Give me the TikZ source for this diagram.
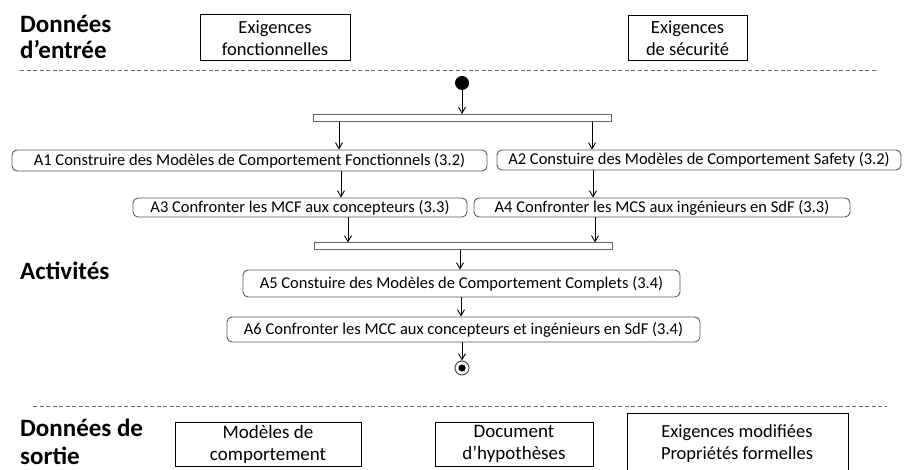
\documentclass[tikz,border=0pt]{standalone}
\usepackage{fontspec}
\setmainfont{Carlito}
\usetikzlibrary{arrows.meta}
\begin{document}
\begin{tikzpicture}[x=1pt,y=-1pt,
  databox/.style={draw=black, line width=1pt, align=center, font=\fontsize{18.5}{22}\selectfont, inner sep=0pt},
  outbox/.style={draw=black, line width=1pt, align=center, font=\fontsize{19}{22}\selectfont, inner sep=0pt},
  act/.style={draw=black!65, rounded corners=5pt, line width=0.9pt, font=\fontsize{16.5}{18}\selectfont, inner sep=0pt},
  bar/.style={draw=black!60, fill=white, line width=1pt, inner sep=0pt},
  arr/.style={-{Straight Barb[length=6pt,width=7pt]}, line width=0.9pt},
  sepline/.style={draw=black!60, dash pattern=on 4pt off 2.5pt, line width=0.9pt},
  head/.style={font=\fontsize{25}{28}\selectfont\bfseries, anchor=base west, inner sep=0pt}]
\useasboundingbox (0,0) rectangle (904,470);
% headings
\node[head] (h1a) at (20,33) {Données};
\node[head] (h1b) at (20,59) {d’entrée};
\node[head] (h2) at (20,279) {Activités};
\node[head] (h3a) at (20,436) {Données de};
\node[head] (h3b) at (20,464) {sortie};
% input data
\node[databox, minimum width=150, minimum height=46] (ef) at (275,38) {Exigences\\fonctionnelles};
\node[databox, minimum width=119, minimum height=45] (es) at (687.5,38.5) {Exigences\\de sécurité};
\draw[sepline] (20,70) -- (877,70);
% activity diagram
\node[circle, fill=black, minimum size=14, inner sep=0pt] (init) at (462,83) {};
\node[bar, minimum width=298, minimum height=7] (b1) at (462,118) {};
\node[act, minimum width=475, minimum height=21] (a1) at (249.5,160.5) {A1 Construire des Modèles de Comportement Fonctionnels (3.2)};
\node[act, minimum width=404, minimum height=20] (a2) at (699,160) {A2 Constuire des Modèles de Comportement Safety (3.2)};
\node[act, minimum width=334, minimum height=19] (a3) at (300,207.5) {A3 Confronter les MCF aux concepteurs (3.3)};
\node[act, minimum width=376, minimum height=19] (a4) at (662,207.5) {A4 Confronter les MCS aux ingénieurs en SdF (3.3)};
\node[bar, minimum width=298, minimum height=7] (b2) at (463,246.5) {};
\node[act, minimum width=437, minimum height=27] (a5) at (461.5,283.5) {A5 Constuire des Modèles de Comportement Complets (3.4)};
\node[act, minimum width=473, minimum height=25] (a6) at (463.5,329.5) {A6 Confronter les MCC aux concepteurs et ingénieurs en SdF (3.4)};
\node[circle, draw=black!70, line width=1pt, minimum size=14, inner sep=0pt,
  path picture={\fill[black] (path picture bounding box.center) circle (3.6);}] (fin) at (462,368) {};
\draw[arr] (init.south) -- (init.south |- b1.north);
\draw[arr] (b1.south -| 339,0) -- (a1.north -| 339,0);
\draw[arr] (b1.south -| 592,0) -- (a2.north -| 592,0);
\draw[arr] (a1.south -| 341,0) -- (a3.north -| 341,0);
\draw[arr] (a2.south -| 593,0) -- (a4.north -| 593,0);
\draw[arr] (a3.south -| 348,0) -- (b2.north -| 348,0);
\draw[arr] (a4.south -| 595,0) -- (b2.north -| 595,0);
\draw[arr] (b2.south -| 460,0) -- (a5.north -| 460,0);
\draw[arr] (a5.south -| 461,0) -- (a6.north -| 461,0);
\draw[arr] (a6.south -| 462,0) -- (fin.north);
% output data
\draw[sepline] (33,406) -- (887,406);
\node[outbox, minimum width=186, minimum height=44] (o1) at (268,444) {Modèles de\\comportement};
\node[outbox, minimum width=158, minimum height=44] (o2) at (514,444) {Document\\d’hypothèses};
\node[draw=black, line width=1pt, minimum width=221, minimum height=70, inner sep=0pt] (o3) at (737.5,448) {};
\node[align=center, font=\fontsize{18.5}{22}\selectfont, inner sep=0pt] (o3t) at (737,444) {Exigences modifiées\\Propriétés formelles};
\end{tikzpicture}
\end{document}
